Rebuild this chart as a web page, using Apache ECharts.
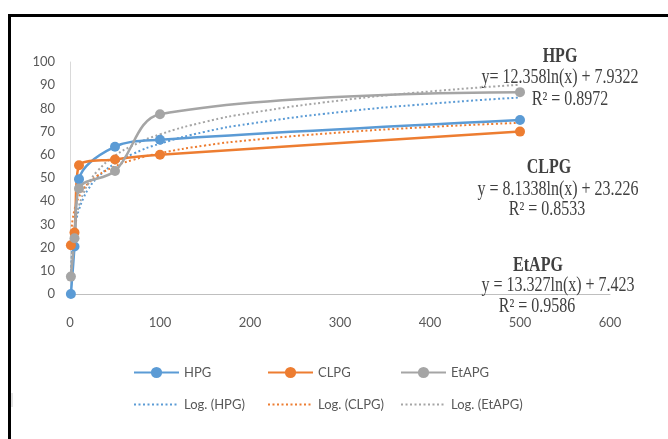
<!DOCTYPE html>
<html lang="en">
<head>
    <meta charset="UTF-8">
    <script src="https://cdn.jsdelivr.net/npm/echarts@6/dist/echarts.min.js"></script>
    <title>HPG / CLPG / EtAPG</title>
</head>
<body>
<style>
    html, body {
        margin: 0;
        background: #fff;
    }
    #main {
        width: 668px;
        height: 439px;
    }
</style>
<div id='main'></div>
<script>
    var xValues = [1, 5, 10, 50, 100, 500];
    var hpg = [0, 20.5, 49.5, 63.5, 66.5, 75];
    var clpg = [21, 26.5, 55.5, 58, 60, 70];
    var etapg = [7.5, 24, 45.5, 53, 77.5, 87];

    // dotted log trend lines
    var trendX = [1, 2, 3, 5, 7, 10, 15, 20, 30, 50, 70, 100, 150, 200, 300, 400, 500];
    var hpgTrend = [7.9, 16.5, 21.5, 27.8, 32.0, 36.4, 41.4, 45.0, 50.0, 56.3, 60.4, 64.8, 69.9, 73.4, 78.4, 82.0, 84.7];
    var clpgTrend = [23.2, 28.9, 32.2, 36.3, 39.1, 41.9, 45.3, 47.6, 50.9, 55.0, 57.8, 60.7, 64.0, 66.3, 69.6, 72.0, 73.8];
    var etapgTrend = [7.4, 16.7, 22.1, 28.9, 33.4, 38.1, 43.5, 47.3, 52.8, 59.6, 64.0, 68.8, 74.2, 78.0, 83.4, 87.3, 90.2];

    var seriesNames = ['HPG', 'CLPG', 'EtAPG'];
    var trendNames = ['Log. (HPG)', 'Log. (CLPG)', 'Log. (EtAPG)'];
    var colors = ['#5B9BD5', '#ED7D31', '#A5A5A5'];

    var yTicks = [0, 100, 10];   // min, max, step
    var xTicks = [0, 600, 100];

    // trend equations as shown on the chart
    var eqTitles = ['HPG', 'CLPG', 'EtAPG'];
    var eqTexts = ['y= 12.358ln(x) + 7.9322', 'y = 8.1338ln(x) + 23.226', 'y = 13.327ln(x) + 7.423'];
    var r2Texts = ['R\u00b2 = 0.8972', 'R\u00b2 = 0.8533', 'R\u00b2 = 0.9586'];

    function pairs(xs, ys) {
        var out = [];
        for (var i = 0; i < xs.length; i++) {
            out.push([xs[i], ys[i]]);
        }
        return out;
    }

    var measured = [hpg, clpg, etapg];
    var trends = [hpgTrend, clpgTrend, etapgTrend];

    var series = [];
    for (var i = 0; i < 3; i++) {
        series.push({
            name: trendNames[i],
            type: 'line',
            data: pairs(trendX, trends[i]),
            smooth: true,
            showSymbol: false,
            symbol: 'none',
            z: 2,
            lineStyle: {color: colors[i], width: 2, type: [2, 2.5]},
            itemStyle: {color: colors[i]}
        });
    }
    for (var i = 0; i < 3; i++) {
        series.push({
            name: seriesNames[i],
            type: 'line',
            data: pairs(xValues, measured[i]),
            smooth: 0.35,
            symbol: 'circle',
            symbolSize: 10,
            z: 3,
            lineStyle: {color: colors[i], width: 2.5},
            itemStyle: {color: colors[i]}
        });
    }

    // one legend per item so the columns line up like the original
    var legendLeft = [133, 267, 400];
    var legends = [];
    for (var i = 0; i < 3; i++) {
        legends.push({
            data: [seriesNames[i]], left: legendLeft[i], top: 366, padding: 0,
            itemWidth: 45, itemHeight: 14, itemGap: 0,
            textStyle: {fontFamily: 'Lato', fontSize: 13, color: '#595959'}
        });
        legends.push({
            data: [trendNames[i]], left: legendLeft[i], top: 398, padding: 0,
            itemWidth: 45, itemHeight: 14, itemGap: 0,
            itemStyle: {opacity: 0},
            textStyle: {fontFamily: 'Lato', fontSize: 13, color: '#595959'}
        });
    }

    // equation labels
    var eqPos = [
        [[560, 57], [560, 78], [570, 100]],
        [[549, 168], [558, 190], [547, 210]],
        [[538, 266], [558, 286], [537, 307]]
    ];
    var graphics = [
        {type: 'rect', left: 7, top: 13, z: 0, silent: true,
            shape: {x: 0, y: 0, width: 700, height: 500},
            style: {fill: null, stroke: '#000', lineWidth: 3}},
        {type: 'line', z: 0, silent: true,
            shape: {x1: 12, y1: 393, x2: 12, y2: 407},
            style: {stroke: '#c8c8c8', lineWidth: 1}}
    ];
    for (var i = 0; i < 3; i++) {
        var lines = [eqTitles[i], eqTexts[i], r2Texts[i]];
        for (var j = 0; j < 3; j++) {
            graphics.push({
                type: 'text', x: eqPos[i][j][0], y: eqPos[i][j][1], scaleX: 0.8, z: 10,
                style: {
                    text: lines[j], fill: '#404040',
                    font: (j === 0 ? 'bold ' : '') + '20px "Liberation Serif"',
                    align: 'center', verticalAlign: 'middle'
                }
            });
        }
    }

    var dom = document.getElementById('main');
    var myChart = echarts.init(dom);
    var option = {
        animation: false,
        backgroundColor: '#fff',
        grid: {left: 70, right: 58, top: 62, bottom: 145},
        legend: legends,
        xAxis: {
            type: 'value',
            min: xTicks[0], max: xTicks[1], interval: xTicks[2],
            axisLine: {show: true, lineStyle: {color: '#bfbfbf', width: 1}},
            axisTick: {show: false},
            splitLine: {show: false},
            axisLabel: {margin: 22, fontFamily: 'Lato', fontSize: 13, color: '#595959'}
        },
        yAxis: {
            type: 'value',
            min: yTicks[0], max: yTicks[1], interval: yTicks[2],
            axisLine: {show: true, lineStyle: {color: '#d9d9d9', width: 1}},
            axisTick: {show: false},
            splitLine: {show: false},
            axisLabel: {margin: 15, fontFamily: 'Lato', fontSize: 13, color: '#595959'}
        },
        graphic: graphics,
        series: series
    };

    if (option && typeof option === "object") {
        myChart.setOption(option, true);
    }
</script>
</body>
</html>
